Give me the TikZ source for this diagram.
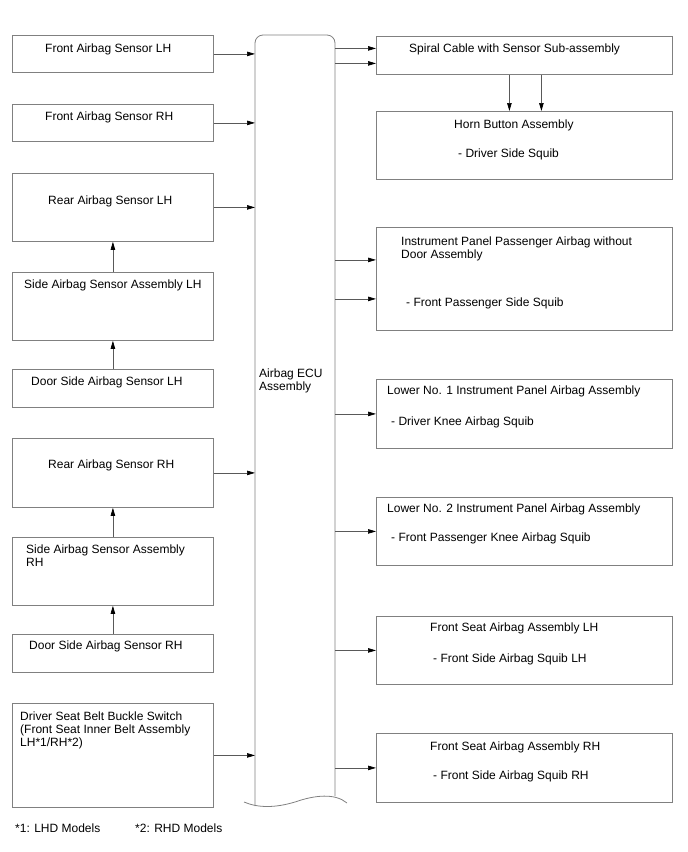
\documentclass[tikz,border=0pt]{standalone}
\usepackage{fontspec}
\setmainfont{Liberation Sans}
\usetikzlibrary{arrows.meta}

\begin{document}
\begin{tikzpicture}[x=1pt,y=-1pt,
  box/.style={draw=black!50,line width=0.8pt,inner sep=0pt,anchor=north west},
  txt/.style={anchor=base west,inner sep=0pt,align=left,font=\fontsize{12}{12.7}\selectfont},
  conn/.style={draw=black!65,line width=0.7pt,-{Triangle[length=8pt,width=4.5pt,black]}}]
\useasboundingbox (0,0) rectangle (688,852);
% sensors, left column
\node[box,minimum width=201pt,minimum height=37pt] (fsl) at (12,35) {};
\node[box,minimum width=201pt,minimum height=37pt] (fsr) at (12,104) {};
\node[box,minimum width=201pt,minimum height=68pt] (rsl) at (12,173) {};
\node[box,minimum width=201pt,minimum height=68pt] (sasl) at (12,272) {};
\node[box,minimum width=201pt,minimum height=38pt] (dsl) at (12,369) {};
\node[box,minimum width=201pt,minimum height=69pt] (rsr) at (12,438) {};
\node[box,minimum width=201pt,minimum height=68pt] (sasr) at (12,537) {};
\node[box,minimum width=201pt,minimum height=38pt] (dsr) at (12,634) {};
\node[box,minimum width=201pt,minimum height=104pt] (dsb) at (12,703) {};
\node[txt] (fsl-t) at (45,52) {Front Airbag Sensor LH};
\node[txt] (fsr-t) at (45,120) {Front Airbag Sensor RH};
\node[txt] (rsl-t) at (48,204) {Rear Airbag Sensor LH};
\node[txt] (sasl-t) at (24,288) {Side Airbag Sensor Assembly LH};
\node[txt] (dsl-t) at (31,385) {Door Side Airbag Sensor LH};
\node[txt] (rsr-t) at (48,468) {Rear Airbag Sensor RH};
\node[txt] (sasr-t) at (26,566) {Side Airbag Sensor Assembly\\RH};
\node[txt] (dsr-t) at (29,649) {Door Side Airbag Sensor RH};
\node[txt] (dsb-t) at (20,746) {Driver Seat Belt Buckle Switch\\(Front Seat Inner Belt Assembly\\LH*1/RH*2)};
\node[txt] (n1) at (15,832) {*1: LHD Models};
\node[txt] (n2) at (135,832) {*2: RHD Models};
% ECU
\node[inner sep=0pt,minimum width=80pt,minimum height=765pt,anchor=north west] (ecu) at (255,35) {};
\draw[black!50,line width=0.8pt,rounded corners=8pt] (255,806) -- (255,35) -- (335,35) -- (335,796);
\draw[black!50,line width=0.8pt] (244,802) .. controls (258,808) and (275,808) .. (295,802)
  .. controls (315,795) and (335,793) .. (347,803);
\node[txt] (ecu-t) at (259,390) {Airbag ECU\\Assembly};
% squibs, right column
\node[box,minimum width=296pt,minimum height=38pt] (spc) at (376,36) {};
\node[box,minimum width=296pt,minimum height=68pt] (hrn) at (376,111) {};
\node[box,minimum width=296pt,minimum height=103pt] (ipa) at (376,227) {};
\node[box,minimum width=296pt,minimum height=69pt] (lo1) at (376,379) {};
\node[box,minimum width=296pt,minimum height=68pt] (lo2) at (376,497) {};
\node[box,minimum width=296pt,minimum height=68pt] (fsa) at (376,616) {};
\node[box,minimum width=296pt,minimum height=69pt] (fsb) at (376,733) {};
\node[txt] (spc-t) at (409,52) {Spiral Cable with Sensor Sub-assembly};
\node[txt] (hrn-t) at (454,128) {Horn Button Assembly};
\node[txt] (hrn-s) at (458,157) {- Driver Side Squib};
\node[txt] (ipa-t) at (401,258) {Instrument Panel Passenger Airbag without\\Door Assembly};
\node[txt] (ipa-s) at (406,306) {- Front Passenger Side Squib};
\node[txt] (lo1-t) at (387,394) {Lower No. 1 Instrument Panel Airbag Assembly};
\node[txt] (lo1-s) at (391,425) {- Driver Knee Airbag Squib};
\node[txt] (lo2-t) at (387,512) {Lower No. 2 Instrument Panel Airbag Assembly};
\node[txt] (lo2-s) at (391,541) {- Front Passenger Knee Airbag Squib};
\node[txt] (fsa-t) at (430,631) {Front Seat Airbag Assembly LH};
\node[txt] (fsa-s) at (433,662) {- Front Side Airbag Squib LH};
\node[txt] (fsb-t) at (430,750) {Front Seat Airbag Assembly RH};
\node[txt] (fsb-s) at (433,779) {- Front Side Airbag Squib RH};
% connectors
\draw[conn] (sasl) -- (rsl);
\draw[conn] (dsl) -- (sasl);
\draw[conn] (sasr) -- (rsr);
\draw[conn] (dsr) -- (sasr);
\foreach \s in {fsl,fsr,rsl,rsr,dsb}
  \draw[conn] (\s) -- (\s -| ecu.west);
\coordinate (spc-a) at ([yshift=7pt]spc.west);
\coordinate (spc-b) at ([yshift=-8pt]spc.west);
\coordinate (ipa-a) at ([yshift=19pt]ipa.west);
\coordinate (ipa-b) at ([yshift=-20pt]ipa.west);
\foreach \t in {spc-a,spc-b,ipa-a,ipa-b}
  \draw[conn] (\t -| ecu.east) -- (\t);
\foreach \t in {lo1,lo2,fsa,fsb}
  \draw[conn] (\t -| ecu.east) -- (\t);
\draw[conn] ([xshift=-15pt]spc.south) -- ([xshift=-15pt]hrn.north);
\draw[conn] ([xshift=17pt]spc.south) -- ([xshift=17pt]hrn.north);
\end{tikzpicture}
\end{document}
